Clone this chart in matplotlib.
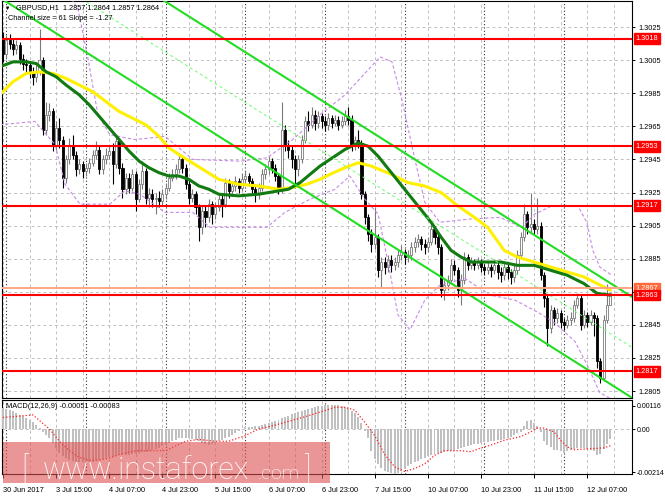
import numpy as np
import matplotlib
matplotlib.use("Agg")
import matplotlib.pyplot as plt
from matplotlib.patches import Rectangle
from matplotlib.transforms import blended_transform_factory

plt.rcParams['font.family'] = ['Liberation Sans', 'DejaVu Sans']

# -------------------------
#           Data
# -------------------------

symbol_line = "GBPUSD,H1  1.2857 1.2864 1.2857 1.2864"
channel_size = 61      # pips
channel_slope = -1.27  # pips per bar
channel_anchor = (120, 1.29197)  # bar, middle line price

first_open = 1.3018
closes = [
    1.3009, 1.3017, 1.3015, 1.3012, 1.3014, 1.3006, 1.3003, 1.3002, 1.2998, 1.2995,
    1.2998, 1.3005, 1.2963, 1.2972, 1.2974, 1.2954, 1.2964, 1.2957, 1.2934, 1.2945,
    1.2954, 1.2948, 1.2939, 1.2942, 1.2938, 1.2940, 1.2943, 1.2948, 1.2951, 1.2939,
    1.2945, 1.2948, 1.2950, 1.2942, 1.2956, 1.2940, 1.2927, 1.2934, 1.2928, 1.2936,
    1.2921, 1.2930, 1.2938, 1.2922, 1.2924, 1.2921, 1.2922, 1.2920, 1.2924, 1.2928,
    1.2934, 1.2936, 1.2939, 1.2945, 1.2940, 1.2930, 1.2922, 1.2924, 1.2916, 1.2904,
    1.2914, 1.2910, 1.2918, 1.2912, 1.2916, 1.2921, 1.2918, 1.2931, 1.2926, 1.2929,
    1.2932, 1.2928, 1.2933, 1.2935, 1.2932, 1.2927, 1.2924, 1.2928, 1.2936, 1.2939,
    1.2944, 1.2940, 1.2935, 1.2927, 1.2963, 1.2954, 1.2951, 1.2945, 1.2939, 1.2945,
    1.2957, 1.2968, 1.2966, 1.2972, 1.2967, 1.2971, 1.2968, 1.2966, 1.2970, 1.2967,
    1.2969, 1.2966, 1.2968, 1.2971, 1.2969, 1.2954, 1.2957, 1.2955, 1.2924, 1.2910,
    1.2900, 1.2894, 1.2898, 1.2878, 1.2883, 1.2880, 1.2884, 1.2881, 1.2883, 1.2887,
    1.2889, 1.2886, 1.2887, 1.2892, 1.2895, 1.2897, 1.2894, 1.2892, 1.2895, 1.2903,
    1.2898, 1.2892, 1.2866, 1.2869, 1.2872, 1.2881, 1.2878, 1.2866, 1.2872, 1.2886,
    1.2881, 1.2883, 1.2881, 1.2883, 1.2880, 1.2878, 1.2880, 1.2878, 1.2881, 1.2877,
    1.2875, 1.2880, 1.2877, 1.2874, 1.2878, 1.2887, 1.2898, 1.2912, 1.2904, 1.2906,
    1.2903, 1.2905, 1.2875, 1.2861, 1.2843, 1.2854, 1.2849, 1.2852, 1.2847, 1.2845,
    1.2848, 1.2849, 1.2857, 1.2861, 1.2845, 1.2851, 1.2847, 1.2851, 1.2849, 1.2823,
    1.2813, 1.2848, 1.2857, 1.2864]

highs = [
    1.3022, 1.3020, 1.3021, 1.3018, 1.3017, 1.3016, 1.3009, 1.3006, 1.3004, 1.3001,
    1.3002, 1.3024, 1.3007, 1.2980, 1.2979, 1.2976, 1.2968, 1.2970, 1.2959, 1.2948,
    1.2958, 1.2960, 1.2950, 1.2945, 1.2944, 1.2943, 1.2946, 1.2951, 1.2956, 1.2954,
    1.2948, 1.2952, 1.2953, 1.2955, 1.2960, 1.2958, 1.2943, 1.2937, 1.2937, 1.2939,
    1.2938, 1.2933, 1.2944, 1.2940, 1.2928, 1.2927, 1.2925, 1.2926, 1.2927, 1.2931,
    1.2937, 1.2939, 1.2942, 1.2949, 1.2947, 1.2942, 1.2933, 1.2927, 1.2926, 1.2918,
    1.2917, 1.2917, 1.2921, 1.2920, 1.2919, 1.2924, 1.2924, 1.2934, 1.2933, 1.2932,
    1.2935, 1.2934, 1.2937, 1.2938, 1.2937, 1.2934, 1.2930, 1.2931, 1.2939, 1.2942,
    1.2947, 1.2946, 1.2942, 1.2937, 1.2980, 1.2966, 1.2957, 1.2953, 1.2948, 1.2948,
    1.2960, 1.2971, 1.2974, 1.2977, 1.2975, 1.2974, 1.2973, 1.2971, 1.2973, 1.2972,
    1.2972, 1.2971, 1.2971, 1.2975, 1.2977, 1.2972, 1.2959, 1.2963, 1.2957, 1.2926,
    1.2912, 1.2903, 1.2916, 1.2900, 1.2886, 1.2886, 1.2887, 1.2887, 1.2886, 1.2890,
    1.2893, 1.2891, 1.2890, 1.2895, 1.2898, 1.2900, 1.2899, 1.2897, 1.2898, 1.2906,
    1.2905, 1.2900, 1.2894, 1.2872, 1.2875, 1.2885, 1.2884, 1.2880, 1.2876, 1.2889,
    1.2888, 1.2886, 1.2885, 1.2886, 1.2885, 1.2882, 1.2883, 1.2882, 1.2884, 1.2883,
    1.2880, 1.2883, 1.2882, 1.2879, 1.2881, 1.2890, 1.2901, 1.2918, 1.2914, 1.2925,
    1.2909, 1.2922, 1.2907, 1.2877, 1.2863, 1.2857, 1.2856, 1.2855, 1.2854, 1.2849,
    1.2851, 1.2853, 1.2860, 1.2864, 1.2863, 1.2854, 1.2853, 1.2854, 1.2853, 1.2851,
    1.2825, 1.2851, 1.2870, 1.2864]

lows = [
    1.3004, 1.3006, 1.3012, 1.3008, 1.3009, 1.3003, 1.2999, 1.2997, 1.2994, 1.2990,
    1.2992, 1.2996, 1.2960, 1.2960, 1.2968, 1.2950, 1.2951, 1.2952, 1.2928, 1.2931,
    1.2942, 1.2945, 1.2935, 1.2936, 1.2934, 1.2935, 1.2937, 1.2941, 1.2945, 1.2936,
    1.2936, 1.2942, 1.2945, 1.2930, 1.2940, 1.2936, 1.2922, 1.2924, 1.2925, 1.2926,
    1.2914, 1.2919, 1.2927, 1.2918, 1.2916, 1.2916, 1.2912, 1.2916, 1.2917, 1.2921,
    1.2926, 1.2932, 1.2933, 1.2937, 1.2937, 1.2927, 1.2918, 1.2919, 1.2912, 1.2896,
    1.2900, 1.2904, 1.2907, 1.2906, 1.2909, 1.2914, 1.2910, 1.2916, 1.2922, 1.2923,
    1.2926, 1.2925, 1.2926, 1.2930, 1.2929, 1.2924, 1.2919, 1.2921, 1.2926, 1.2933,
    1.2936, 1.2937, 1.2932, 1.2924, 1.2925, 1.2950, 1.2946, 1.2940, 1.2928, 1.2935,
    1.2943, 1.2955, 1.2962, 1.2964, 1.2963, 1.2964, 1.2964, 1.2962, 1.2963, 1.2964,
    1.2965, 1.2963, 1.2964, 1.2966, 1.2966, 1.2950, 1.2951, 1.2952, 1.2921, 1.2906,
    1.2896, 1.2889, 1.2891, 1.2874, 1.2868, 1.2876, 1.2877, 1.2877, 1.2878, 1.2880,
    1.2884, 1.2882, 1.2883, 1.2884, 1.2889, 1.2892, 1.2890, 1.2888, 1.2889, 1.2893,
    1.2894, 1.2888, 1.2862, 1.2860, 1.2866, 1.2870, 1.2875, 1.2862, 1.2857, 1.2870,
    1.2878, 1.2879, 1.2878, 1.2879, 1.2877, 1.2875, 1.2876, 1.2874, 1.2876, 1.2873,
    1.2871, 1.2872, 1.2873, 1.2870, 1.2871, 1.2876, 1.2885, 1.2896, 1.2900, 1.2901,
    1.2900, 1.2900, 1.2872, 1.2856, 1.2832, 1.2840, 1.2845, 1.2846, 1.2843, 1.2842,
    1.2843, 1.2845, 1.2847, 1.2855, 1.2842, 1.2843, 1.2844, 1.2845, 1.2838, 1.2819,
    1.2810, 1.2811, 1.2846, 1.2857]

# moving averages: (bar, price)
ma_fast_bars = [-1, 3, 7, 10, 13, 16, 19, 23, 26, 29, 32, 35, 38, 41, 44, 47, 50, 53, 56,
                59, 62, 65, 71, 77, 83, 86, 89.5, 92.5, 95.5, 98.5, 103, 107, 110, 113,
                117, 121, 125, 129, 132, 135, 138, 141, 145, 150, 155, 160, 165, 170,
                175, 179, 183]
ma_fast = [1.3001, 1.3004, 1.3004, 1.3003, 1.2998, 1.2995, 1.2990, 1.2984, 1.2978, 1.2971,
           1.2964, 1.2957, 1.2950, 1.2944, 1.2940, 1.2937, 1.2935, 1.2935, 1.2933, 1.2929,
           1.2927, 1.2924, 1.2923, 1.2924, 1.2926, 1.2927, 1.2931, 1.2936, 1.2941, 1.2945,
           1.2951, 1.2955, 1.2953, 1.2947, 1.2937, 1.2927, 1.2917, 1.2907, 1.2898, 1.2890,
           1.2886, 1.2883, 1.2883, 1.2883, 1.2881, 1.2881, 1.2878, 1.2875, 1.2870, 1.2864,
           1.2863]

ma_slow_bars = [-1, 3, 7, 11, 15, 19, 23, 27, 31, 35, 39, 43, 47, 50, 53, 57, 61, 65, 71,
                77, 83, 87, 91.5, 95.5, 98.5, 103, 107, 111, 117, 122, 127, 132, 137, 142,
                146, 151, 155, 160, 165, 170, 175, 179, 183]
ma_slow = [1.2984, 1.2992, 1.2997, 1.2998, 1.2997, 1.2994, 1.2990, 1.2986, 1.2980, 1.2974,
           1.2970, 1.2966, 1.2959, 1.2952, 1.2948, 1.2943, 1.2938, 1.2933, 1.2930, 1.2929,
           1.2927, 1.2928, 1.2930, 1.2933, 1.2936, 1.2940, 1.2943, 1.2941, 1.2936, 1.2931,
           1.2929, 1.2925, 1.2917, 1.2910, 1.2904, 1.2890, 1.2886, 1.2883, 1.2880, 1.2877,
           1.2874, 1.2870, 1.2866]

band_up_bars = [-1, 18.7, 22.6, 25.6, 28.6, 32.2, 39.8, 48.8, 57.2, 71.4, 79.5, 87.3, 95.5,
                103, 109, 113.6, 117.2, 120.2, 124.1, 127.1, 131.6, 140.7, 149.7, 156.3,
                160.2, 165.4, 173.2, 175.9, 177.7, 179.8, 183.4]
band_up = [1.3060, 1.3048, 1.3036, 1.3006, 1.2972, 1.2960, 1.2957, 1.2959, 1.2945, 1.2944,
           1.2946, 1.2957, 1.2972, 1.2984, 1.2997, 1.3007, 1.3004, 1.2981, 1.2945, 1.2919,
           1.2907, 1.2909, 1.2910, 1.2904, 1.2912, 1.2917, 1.2917, 1.2907, 1.2890, 1.2880,
           1.2875]

band_dn_bars = [-1, 9.6, 15.7, 18.7, 23.2, 32.2, 36.7, 41.3, 48.8, 57.2, 62.3, 79.5, 84.9,
                92.5, 100, 104.5, 109, 113, 116, 119, 122.6, 127.1, 131.6, 139.2, 146.7,
                154.2, 161.7, 166.3, 172.3, 176.2, 179.8, 183.4]
band_dn = [1.2966, 1.2968, 1.2954, 1.2930, 1.2918, 1.2918, 1.2926, 1.2924, 1.2913, 1.2913,
           1.2904, 1.2904, 1.2913, 1.2921, 1.2927, 1.2935, 1.2921, 1.2912, 1.2883, 1.2851,
           1.2842, 1.2860, 1.2869, 1.2873, 1.2863, 1.2860, 1.2852, 1.2846, 1.2835, 1.2820,
           1.2804, 1.2800]

red_levels = [1.3018, 1.2953, 1.2917, 1.2863, 1.2817]
orange_level = 1.2867

price_ticks = [1.3025, 1.3005, 1.2985, 1.2965, 1.2945, 1.2925, 1.2905, 1.2885, 1.2865,
               1.2845, 1.2825, 1.2805]

# MACD(12,26,9), in units of 0.00001
macd_main = [
    105, 100, 95, 88, 80, 72, 63, 55, 47, 35,
    22, 5, -15, -32, -47, -70, -95, -117, -135, -145,
    -155, -158, -162, -164, -166, -169, -166, -162, -158, -155,
    -150, -145, -141, -138, -135, -131, -130, -128, -127, -125,
    -122, -118, -115, -112, -108, -104, -99, -94, -86, -78,
    -70, -62, -55, -47, -45, -46, -47, -52, -57, -61,
    -68, -75, -80, -74, -68, -61, -53, -46, -38, -28,
    -18, -9, 0, 9, 11, 12, 14, 17, 20, 23,
    28, 33, 38, 45, 53, 61, 67, 73, 78, 84,
    89, 94, 98, 103, 108, 112, 115, 117, 118, 118,
    117, 117, 114, 110, 103, 92, 80, 60, 30, -10,
    -47, -110, -150, -174, -195, -208, -216, -220, -222, -220,
    -210, -197, -185, -174, -165, -157, -150, -142, -135, -127,
    -123, -119, -117, -113, -110, -108, -103, -98, -94, -90,
    -85, -80, -77, -73, -70, -67, -64, -61, -59, -57,
    -56, -50, -44, -38, -30, -22, -14, 14, 40, 47,
    30, 14, -14, -61, -80, -88, -103, -106, -108, -117,
    -110, -103, -100, -97, -94, -97, -100, -103, -110, -131,
    -125, -98, -75, -51]

signal_bars = [-1, 9, 14, 17, 20, 23, 26, 29, 32, 35, 40, 44, 49, 52, 55, 59, 64, 68, 73, 77,
               82, 86, 91, 95.5, 100, 103, 106, 109, 112, 115, 118, 121, 124, 127, 130, 133,
               138, 141, 144, 147, 151, 156, 159, 161, 163, 166, 168, 170, 172, 177, 181, 183]
signal_vals = [56, 70, 0, -61, -108, -141, -155, -155, -145, -127, -108, -108, -108, -84, -61,
               -52, -61, -61, -33, 0, 19, 38, 61, 84, 108, 108, 94, 33, -33, -127, -188, -211,
               -197, -174, -131, -108, -108, -113, -94, -80, -56, -38, -14, 5, 5, -14, -56,
               -89, -103, -98, -94, -83]

time_labels = ["30 Jun 2017", "3 Jul 15:00", "4 Jul 07:00", "4 Jul 23:00", "5 Jul 15:00",
               "6 Jul 07:00", "6 Jul 23:00", "7 Jul 15:00", "10 Jul 07:00", "10 Jul 23:00",
               "11 Jul 15:00", "12 Jul 07:00"]
time_label_bars = [0, 16, 32, 48, 64, 80, 96, 112, 128, 144, 160, 176]
day_start_bars = [1, 25, 49, 73, 97, 121, 145, 169]


# -------------------------
#          Layout
# -------------------------

W, H = 665, 499
fig = plt.figure(figsize=(W / 100, H / 100), dpi=100)
fig.patch.set_facecolor('white')


def px_box(x0, y0, x1, y1):
    return [x0 / W, 1 - y1 / H, (x1 - x0) / W, (y1 - y0) / H]


ax = fig.add_axes(px_box(2, 1, 632, 398))
axm = fig.add_axes(px_box(2, 400, 632, 474))

xlim = (-0.3, 189.5)
fs = 5.3

# grid
for a in (ax, axm):
    for b in range(0, 190, 8):
        a.axvline(b, color='#c0c0c0', lw=0.7, dashes=(3, 3), zorder=1)
    for b in day_start_bars:
        a.axvline(b, color='#303030', lw=0.8, dashes=(1, 2), zorder=1)
for p in price_ticks:
    ax.axhline(p, color='#c0c0c0', lw=0.7, dashes=(3, 3), zorder=1)
axm.axhline(0, color='#c0c0c0', lw=0.7, dashes=(3, 3), zorder=1)

# -------------------------
#         Candles
# -------------------------

closes = np.array(closes)
highs = np.array(highs)
lows = np.array(lows)
opens = np.r_[first_open, closes[:-1]]
idx = np.arange(len(closes))
up = closes >= opens

ax.vlines(idx[up], lows[up], highs[up], color='#7a7a7a', lw=0.8, zorder=3)
ax.vlines(idx[~up], lows[~up], highs[~up], color='black', lw=0.8, zorder=3)
body_lo = np.minimum(opens, closes)
body_h = np.maximum(np.abs(closes - opens), 0.00003)
ax.bar(idx[up], body_h[up], bottom=body_lo[up], width=0.62, color='white',
       edgecolor='#7a7a7a', lw=0.6, zorder=4)
ax.bar(idx[~up], body_h[~up], bottom=body_lo[~up], width=0.62, color='black',
       edgecolor='black', lw=0.6, zorder=4)

# indicators
ax.plot(band_up_bars, band_up, color='#c58ae6', lw=0.8, dashes=(3, 2), zorder=5)
ax.plot(band_dn_bars, band_dn, color='#c58ae6', lw=0.8, dashes=(3, 2), zorder=5)
ax.plot(ma_slow_bars, ma_slow, color='#fff000', lw=2.2, zorder=5, solid_capstyle='round')
ax.plot(ma_fast_bars, ma_fast, color='#117a11', lw=2.2, zorder=6, solid_capstyle='round')

# regression channel from its size/slope
cx = np.array([-1, 190])
mid = channel_anchor[1] + channel_slope * 0.0001 * (cx - channel_anchor[0])
half = channel_size * 0.0001 / 2
ax.plot(cx, mid + half, color='#22dd22', lw=1.5, zorder=6)
ax.plot(cx, mid - half, color='#22dd22', lw=1.5, zorder=6)
ax.plot(cx, mid, color='#66ff66', lw=0.7, dashes=(3, 3), zorder=6)

# horizontal levels
ax.axhline(orange_level, color='#ffa584', lw=1.4, zorder=7)
for lv in red_levels:
    ax.axhline(lv, color='#ff0000', lw=1.5, zorder=7)

ax.set_xlim(*xlim)
ax.set_ylim(1.28008, 1.30408)

ax.yaxis.tick_right()
ax.set_yticks(price_ticks)
ax.set_yticklabels(['' if p == 1.2865 else f"{p:.4f}" for p in price_ticks])
ax.tick_params(axis='y', length=2.5, width=0.7, pad=2, labelsize=fs)
ax.set_xticks([])

# labels on the price axis
tr = blended_transform_factory(ax.transAxes, ax.transData)
ax.text(1.006, orange_level, f"{orange_level:.4f}", transform=tr, ha='left', va='center',
        color='white', fontsize=fs, clip_on=False, zorder=20,
        bbox=dict(boxstyle='square,pad=0.25', fc='#ff6a3d', ec='#ff6a3d'))
for lv in red_levels:
    ax.text(1.006, lv, f"{lv:.4f}", transform=tr, ha='left', va='center',
            color='white', fontsize=fs, clip_on=False, zorder=21,
            bbox=dict(boxstyle='square,pad=0.25', fc='#ff0000', ec='#ff0000'))

# -------------------------
#           MACD
# -------------------------

axm.bar(idx, np.array(macd_main) * 1e-5, width=0.6, color='#c0c0c0', zorder=3)
axm.plot(signal_bars, np.array(signal_vals) * 1e-5, color='#ff2020', lw=0.9,
         dashes=(1, 1.6), zorder=4)
axm.set_xlim(*xlim)
axm.set_ylim(-0.002239, 0.001443)
axm.yaxis.tick_right()
axm.set_yticks([0.00116, 0.0, -0.00214])
axm.set_yticklabels(['0.00116', '0.00', '-0.00214'])
axm.tick_params(axis='y', length=2, width=0.7, pad=1.5, labelsize=5.0)
axm.set_xticks(time_label_bars)
axm.set_xticklabels(time_labels, ha='left')
axm.tick_params(axis='x', length=3, width=0.7, pad=6, labelsize=fs)

for a in (ax, axm):
    for s in a.spines.values():
        s.set_linewidth(0.8)
        s.set_color('black')

# -------------------------
#       Texts / overlay
# -------------------------

fig.text(5 / W, 1 - 8 / H, '\u25bc', fontsize=4, va='center', ha='left')
fig.text(16 / W, 1 - 8 / H, symbol_line, fontsize=fs, va='center', ha='left')
fig.text(8 / W, 1 - 19 / H, f"Channel size = {channel_size} Slope = {channel_slope}",
         fontsize=fs, va='center', ha='left')
fig.text(6 / W, 1 - 407 / H, "MACD(12,26,9) -0.00051 -0.00083", fontsize=fs,
         va='center', ha='left')

fig.patches.append(Rectangle((3 / W, 1 - 483 / H), 327 / W, 41 / H,
                             transform=fig.transFigure, fc='#de5050', ec='none',
                             alpha=0.6, zorder=30))
base = 1 - 479 / H
wm = dict(color='white', va='baseline', zorder=31, family=['Roboto', 'DejaVu Sans'],
          fontweight='light')
fig.text(21 / W, base, '[', fontsize=22, **wm)
fig.text(43 / W, base, 'www.instaforex', fontsize=22, **wm)
fig.text(258 / W, base, '.com', fontsize=14, **wm)
fig.text(304 / W, base, ']', fontsize=22, **wm)

plt.savefig('out.png', dpi=100)
